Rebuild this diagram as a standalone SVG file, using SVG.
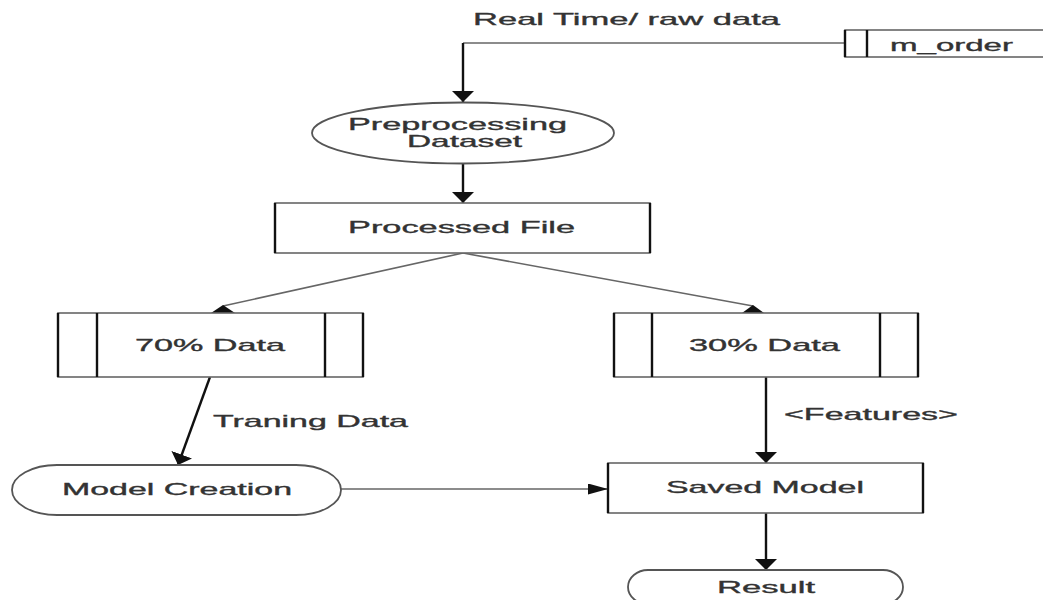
<svg xmlns="http://www.w3.org/2000/svg" width="1043" height="600" viewBox="0 0 1043 600">
<style>
text{font-family:"Liberation Sans",Arial,sans-serif;font-size:17px;fill:#333;stroke:#333;stroke-width:0.35;}
.bx{fill:#fff;stroke:#666;stroke-width:1.6;}
.vt{stroke:#111;stroke-width:2.4;}
.thin{fill:none;stroke:#666;stroke-width:1.6;}
.thick{fill:none;stroke:#111;stroke-width:2.4;}
.head{fill:#111;stroke:none;}
</style>
<defs>
<marker id="down" markerUnits="userSpaceOnUse" markerWidth="12" markerHeight="22" refX="11" refY="11" orient="auto">
<path d="M0,0 L11,11 L0,22 z" fill="#111"/>
</marker>
<marker id="right" markerUnits="userSpaceOnUse" markerWidth="20" markerHeight="11" refX="20" refY="5.5" orient="auto">
<path d="M0,0 L20,5.5 L0,11 z" fill="#111"/>
</marker>
</defs>
<rect width="1043" height="600" fill="#fff"/>

<g id="connectors">
<path class="thin" d="M845,43 H463"/>
<path class="thick" d="M463,43 V102" marker-end="url(#down)"/>
<path class="thick" d="M463,163 V203" marker-end="url(#down)"/>
<path class="thin" d="M463,253 L223,306"/>
<polygon class="head" points="211,313 223,305 235,313"/>
<path class="thin" d="M463,253 L753,306"/>
<polygon class="head" points="742,313 753,305 764,313"/>
<path class="thick" d="M210,377 L178,465" marker-end="url(#down)"/>
<path class="thick" d="M766,377 V463" marker-end="url(#down)"/>
<path class="thin" d="M341,489 H608" marker-end="url(#right)"/>
<path class="thick" d="M766,513 V570" marker-end="url(#down)"/>
<text x="473" y="25" textLength="307" lengthAdjust="spacingAndGlyphs">Real Time/ raw data</text>
<text x="213" y="427" textLength="195" lengthAdjust="spacingAndGlyphs">Traning Data</text>
<text x="784" y="420" textLength="174" lengthAdjust="spacingAndGlyphs">&lt;Features&gt;</text>
</g>

<g id="m_order">
<rect class="bx" x="845" y="30" width="210" height="27"/>
<line class="vt" x1="845" y1="30" x2="845" y2="57"/>
<line class="vt" x1="867" y1="30" x2="867" y2="57"/>
<text x="890" y="51" textLength="123" lengthAdjust="spacingAndGlyphs">m_order</text>
</g>

<g id="preprocessing">
<ellipse cx="463" cy="133" rx="151" ry="30.5" fill="#fff" stroke="#555" stroke-width="1.8"/>
<text x="348" y="130" textLength="219" lengthAdjust="spacingAndGlyphs">Preprocessing</text>
<text x="407" y="147" textLength="115" lengthAdjust="spacingAndGlyphs">Dataset</text>
</g>

<g id="processed_file">
<rect class="bx" x="275" y="203" width="375" height="50"/>
<line class="vt" x1="275" y1="203" x2="275" y2="253"/>
<line class="vt" x1="650" y1="203" x2="650" y2="253"/>
<text x="348" y="233" textLength="227" lengthAdjust="spacingAndGlyphs">Processed File</text>
</g>

<g id="data70">
<rect class="bx" x="58" y="313" width="305" height="64"/>
<line class="vt" x1="58" y1="313" x2="58" y2="377"/>
<line class="vt" x1="97" y1="313" x2="97" y2="377"/>
<line class="vt" x1="325" y1="313" x2="325" y2="377"/>
<line class="vt" x1="363" y1="313" x2="363" y2="377"/>
<text x="135" y="351" textLength="150" lengthAdjust="spacingAndGlyphs">70% Data</text>
</g>

<g id="data30">
<rect class="bx" x="614" y="313" width="304" height="64"/>
<line class="vt" x1="614" y1="313" x2="614" y2="377"/>
<line class="vt" x1="652" y1="313" x2="652" y2="377"/>
<line class="vt" x1="880" y1="313" x2="880" y2="377"/>
<line class="vt" x1="918" y1="313" x2="918" y2="377"/>
<text x="689" y="351" textLength="151" lengthAdjust="spacingAndGlyphs">30% Data</text>
</g>

<g id="model_creation">
<rect x="12" y="465" width="329" height="50" rx="45" ry="25" fill="#fff" stroke="#555" stroke-width="1.8"/>
<text x="62" y="495" textLength="230" lengthAdjust="spacingAndGlyphs">Model Creation</text>
</g>

<g id="saved_model">
<rect class="bx" x="608" y="463" width="315" height="50"/>
<line class="vt" x1="608" y1="463" x2="608" y2="513"/>
<line class="vt" x1="923" y1="463" x2="923" y2="513"/>
<text x="666" y="493" textLength="198" lengthAdjust="spacingAndGlyphs">Saved Model</text>
</g>

<g id="result">
<rect x="628" y="570" width="275" height="34" rx="20" ry="17" fill="#fff" stroke="#555" stroke-width="1.8"/>
<text x="717" y="593" textLength="98" lengthAdjust="spacingAndGlyphs">Result</text>
</g>
</svg>
